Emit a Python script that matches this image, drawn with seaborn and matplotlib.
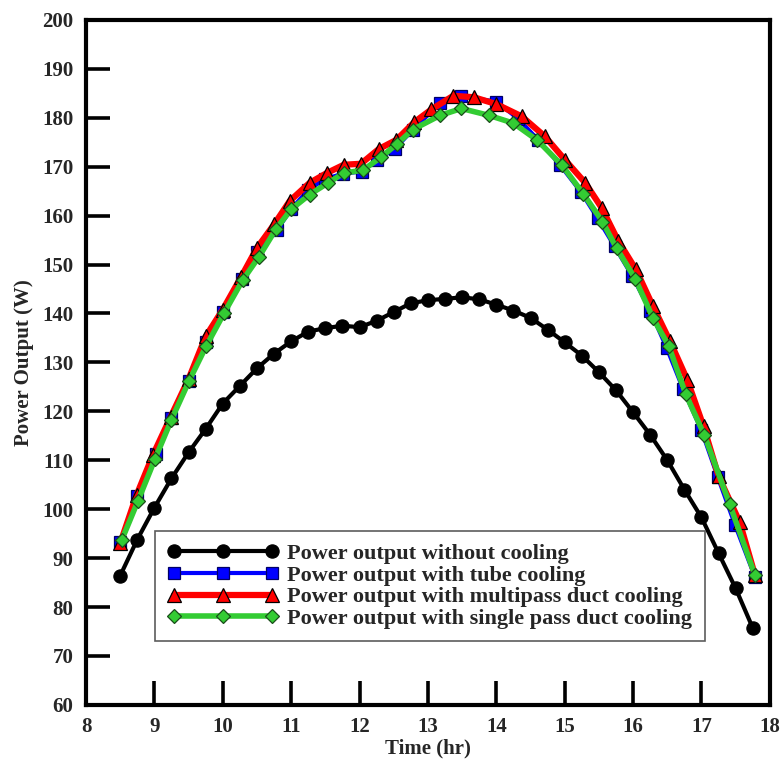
import matplotlib
matplotlib.use("Agg")
import matplotlib.pyplot as plt
import seaborn as sns
import pandas as pd

# Hourly readings (quarter-hour resolution) of PV panel power output
time_no_cool = [8.5, 8.75, 9.0, 9.25, 9.5, 9.75, 10.0, 10.25, 10.5, 10.75, 11.0,
                11.25, 11.5, 11.75, 12.0, 12.25, 12.5, 12.75, 13.0, 13.25, 13.5,
                13.75, 14.0, 14.25, 14.5, 14.75, 15.0, 15.25, 15.5, 15.75, 16.0,
                16.25, 16.5, 16.75, 17.0, 17.25, 17.5, 17.75]
power_no_cool = [86.4, 93.8, 100.3, 106.3, 111.6, 116.4, 121.6, 125.2, 128.8, 131.8,
                 134.3, 136.3, 137.0, 137.5, 137.2, 138.5, 140.3, 142.1, 142.7, 143.0,
                 143.3, 142.9, 141.8, 140.6, 139.1, 136.7, 134.1, 131.4, 128.0, 124.3,
                 119.8, 115.2, 110.0, 104.0, 98.3, 91.0, 83.8, 75.7]

time_tube = [8.5, 8.74, 9.02, 9.24, 9.5, 9.75, 10.0, 10.28, 10.5, 10.79, 11.0, 11.25,
             11.5, 11.76, 12.03, 12.25, 12.52, 12.78, 13.18, 13.49, 14.0, 14.32,
             14.61, 14.93, 15.24, 15.48, 15.73, 15.99, 16.25, 16.49, 16.73, 17.0,
             17.24, 17.49, 17.78]
power_tube = [93.3, 102.6, 111.3, 118.6, 126.3, 134.1, 140.4, 147.1, 152.6, 157.0,
              161.3, 165.3, 167.5, 168.6, 169.0, 171.3, 173.7, 177.6, 183.0, 184.4,
              183.3, 179.8, 175.5, 170.4, 164.8, 159.5, 153.7, 147.6, 140.6, 133.0,
              124.6, 116.1, 106.5, 96.8, 86.2]

time_multi = [8.5, 8.74, 8.98, 9.24, 9.5, 9.75, 10.0, 10.27, 10.5, 10.75, 10.98,
              11.27, 11.52, 11.77, 12.02, 12.28, 12.54, 12.8, 13.05, 13.37, 13.67,
              14.0, 14.37, 14.71, 15.01, 15.3, 15.54, 15.78, 16.04, 16.29, 16.54,
              16.79, 17.03, 17.25, 17.56, 17.78]
power_multi = [93.0, 102.9, 111.1, 118.9, 126.6, 135.3, 140.8, 147.5, 153.4, 158.2,
               163.0, 166.7, 168.7, 170.4, 170.6, 173.6, 175.5, 179.1, 181.7, 184.5,
               184.2, 182.8, 180.3, 176.2, 171.3, 166.7, 161.6, 154.9, 149.0, 141.5,
               134.3, 126.5, 116.9, 106.7, 97.3, 86.6]

time_single = [8.52, 8.76, 9.01, 9.25, 9.51, 9.76, 10.02, 10.29, 10.53, 10.78, 11.0,
               11.27, 11.54, 11.77, 12.05, 12.32, 12.55, 12.78, 13.18, 13.49, 13.89,
               14.25, 14.6, 14.96, 15.27, 15.55, 15.76, 16.03, 16.29, 16.52, 16.77,
               17.04, 17.41, 17.78]
power_single = [93.6, 101.7, 110.3, 118.3, 126.3, 133.4, 140.1, 146.8, 151.6, 157.3,
                161.3, 164.3, 166.7, 168.7, 169.3, 172.0, 174.7, 177.6, 180.5, 181.9,
                180.5, 178.9, 175.4, 170.3, 164.5, 158.8, 153.3, 147.1, 139.1, 133.4,
                123.5, 115.2, 101.1, 86.6]

labels = ["Power output without cooling",
          "Power output with tube cooling",
          "Power output with multipass duct cooling",
          "Power output with single pass duct cooling"]

x_ticks = list(range(8, 19))
y_ticks = list(range(60, 201, 10))

sns.set_theme(style="white")
plt.rcParams["font.family"] = ["Liberation Serif", "DejaVu Serif"]
plt.rcParams["font.weight"] = "bold"

fig = plt.figure(figsize=(7.84, 7.67), dpi=100)
ax = fig.add_axes([0.1097, 0.081, 0.8723, 0.893])

series = [
    (time_no_cool, power_no_cool, labels[0], "black", "o", 3.0, 9.5, "black"),
    (time_tube, power_tube, labels[1], "#0000FF", "s", 3.0, 8.5, "#000066"),
    (time_multi, power_multi, labels[2], "#FF0000", "^", 4.5, 9.5, "black"),
    (time_single, power_single, labels[3], "#33CC33", "D", 4.0, 7.5, "#1a4d1a"),
]

for xs, ys, lab, col, mk, lw, ms, mec in series:
    df = pd.DataFrame({"time": xs, "power": ys})
    sns.lineplot(data=df, x="time", y="power", ax=ax, color=col, linewidth=lw,
                 marker=mk, markersize=ms, markeredgecolor=mec,
                 markeredgewidth=0.9, markerfacecolor=col, label=lab,
                 sort=False, estimator=None)

ax.set_xlim(8, 18)
ax.set_ylim(60, 200)
ax.set_xticks(x_ticks)
ax.set_yticks(y_ticks)
ax.tick_params(axis="both", which="major", direction="in", length=17, width=2.6,
               labelsize=15, pad=9, color="black", bottom=True, left=True,
               top=False, right=False)
for lbl in ax.get_xticklabels() + ax.get_yticklabels():
    lbl.set_fontweight("bold")

for sp in ax.spines.values():
    sp.set_linewidth(3.0)
    sp.set_color("black")

ax.set_xlabel("Time (hr)", fontsize=15, fontweight="bold", labelpad=1)
ax.set_ylabel("Power Output (W)", fontsize=15, fontweight="bold", labelpad=6)

leg = ax.legend(loc="lower left", bbox_to_anchor=(0.101, 0.093), numpoints=3,
                handlelength=5.0, frameon=True, fancybox=False,
                prop={"family": ["Liberation Serif"], "weight": "bold", "size": 16},
                borderpad=0.55, labelspacing=0.05, handletextpad=0.4,
                borderaxespad=0.0)
leg.get_frame().set_edgecolor("#333333")
leg.get_frame().set_linewidth(1.2)

fig.savefig("out.png", dpi=100)
